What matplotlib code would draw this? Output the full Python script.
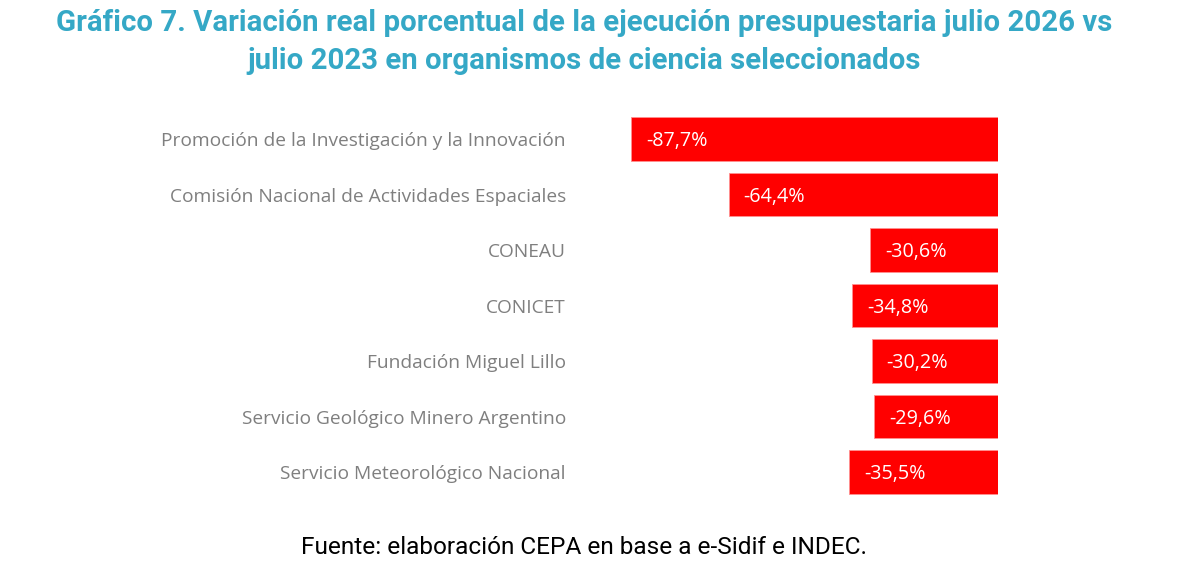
import matplotlib
matplotlib.use("Agg")
import matplotlib.pyplot as plt

categories = [
    "Promoción de la Investigación y la Innovación",
    "Comisión Nacional de Actividades Espaciales",
    "CONEAU",
    "CONICET",
    "Fundación Miguel Lillo",
    "Servicio Geológico Minero Argentino",
    "Servicio Meteorológico Nacional",
]
values = [-87.7, -64.4, -30.6, -34.8, -30.2, -29.6, -35.5]
value_labels = ["-87,7%", "-64,4%", "-30,6%", "-34,8%", "-30,2%", "-29,6%", "-35,5%"]

title = "Gráfico 7. Variación real porcentual de la ejecución presupuestaria julio 2026 vs\njulio 2023 en organismos de ciencia seleccionados"
source = "Fuente: elaboración CEPA en base a e-Sidif e INDEC."

W, H = 1180, 563
fig = plt.figure(figsize=(W / 100, H / 100), dpi=100)
fig.patch.set_facecolor("white")

left_px, right_px = 621.4, 998
top_px, bot_px = 111.25, 499.75
ax = fig.add_axes([left_px / W, 1 - bot_px / H, (right_px - left_px) / W, (bot_px - top_px) / H])

ypos = list(range(len(categories)))
bars = ax.barh(ypos, values, height=0.79, color="#FF0000", edgecolor="#FF9090", linewidth=0.6)
ax.set_xlim(-90, 0)
ax.set_ylim(len(categories) - 0.5, -0.5)

for y, v, lab in zip(ypos, values, value_labels):
    ax.annotate(lab, xy=(v, y), xytext=(15, -2), textcoords="offset pixels",
                ha="left", va="center", color="white", fontsize=14.2, family="Open Sans")

ax.set_yticks(ypos)
ax.set_yticklabels(categories, fontsize=13.8, color="#7F7F7F", family="Open Sans")
ax.tick_params(axis="y", length=0, pad=40)
ax.set_xticks([])
for s in ax.spines.values():
    s.set_visible(False)
ax.set_facecolor("none")

fig.text(584 / W, 1 - 42 / H, title, ha="center", va="center", fontsize=21.2,
         fontweight="bold", color="#35A8C6", family="Roboto", linespacing=1.42)
fig.text(584 / W, 1 - 548 / H, source, ha="center", va="center", fontsize=17.6,
         color="black", family="Roboto")

fig.savefig("out.png", dpi=100)
